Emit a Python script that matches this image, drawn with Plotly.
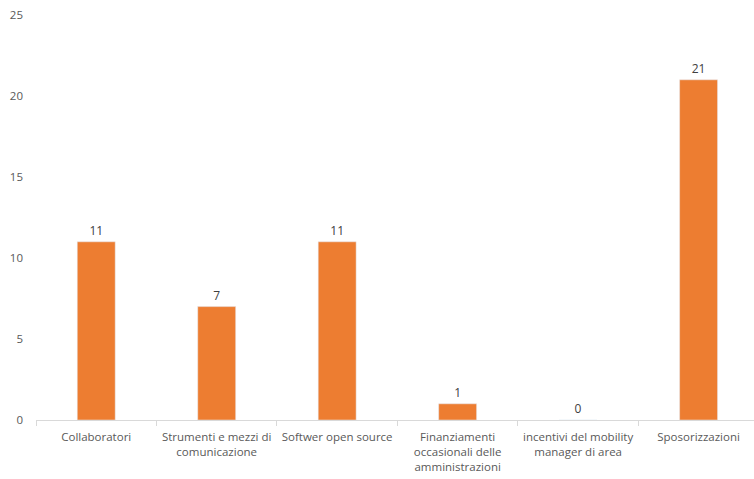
import plotly.graph_objects as go

categories = ["Collaboratori", "Strumenti e mezzi di<br>comunicazione", "Softwer open source",
              "Finanziamenti<br>occasionali delle<br>amministrazioni",
              "incentivi del mobility<br>manager di area", "Sposorizzazioni"]
values = [11, 7, 11, 1, 0, 21]

font = dict(family="Open Sans, Liberation Sans, sans-serif", size=11.5, color="#595959")

fig = go.Figure(go.Bar(
    x=categories, y=values, marker_color="#ED7D31",
    text=[str(v) for v in values], textposition="outside",
    textfont=dict(family=font["family"], size=12, color="#404040"),
    cliponaxis=False, width=0.315, hoverinfo="skip",
))
fig.update_layout(
    width=754, height=479, margin=dict(l=36, r=0, t=15, b=59),
    paper_bgcolor="white", plot_bgcolor="white", font=font, showlegend=False,
)
fig.update_xaxes(range=[-0.5, 5.46], showline=True, linecolor="#d9d9d9", linewidth=1,
                 ticks="outside", tickson="boundaries", ticklen=5, tickcolor="#d9d9d9",
                 showgrid=False, tickfont=font, tickangle=0, automargin=False,
                 ticklabelstandoff=6, fixedrange=True)
fig.update_yaxes(range=[0, 25], dtick=5, showgrid=False, zeroline=False, showline=False,
                 tickfont=font, ticklabelstandoff=12, automargin=False, fixedrange=True)
fig.write_html("out.html", config={"displayModeBar": False, "staticPlot": True},
               post_script="document.body.style.margin='0';document.body.style.overflow='hidden';")
